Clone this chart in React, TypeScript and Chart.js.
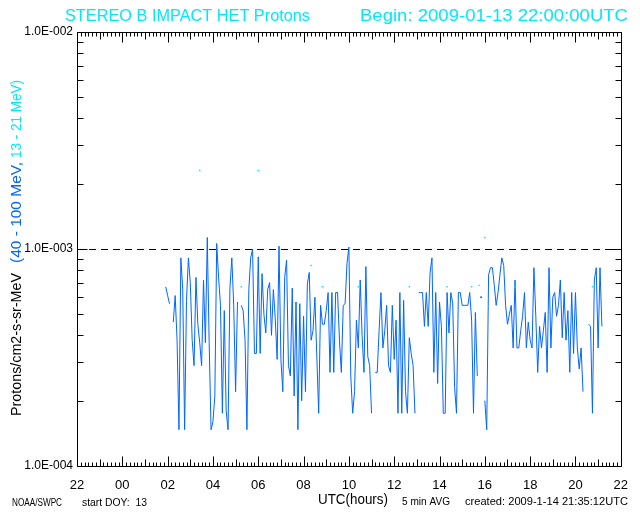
import React, { useEffect, useRef } from "react";
import { Chart, registerables } from "chart.js";

Chart.register(...registerables);

// ---------- texts ----------
const TITLE_LEFT = "STEREO B IMPACT HET Protons";
const TITLE_RIGHT = "Begin: 2009-01-13 22:00:00UTC";
const Y_TITLE_UNITS = "Protons/cm2-s-sr-MeV";
const Y_TITLE_HIGH = "(40 - 100 MeV,";
const Y_TITLE_LOW = "13 - 21 MeV)";
const FOOT_LEFT = "NOAA/SWPC";
const FOOT_DOY = "start DOY:  13";
const X_TITLE = "UTC(hours)";
const FOOT_AVG = "5 min AVG";
const FOOT_CREATED = "created: 2009-1-14 21:35:12UTC";

// ---------- axes ----------
const BEGIN_HOUR_UTC = 22;
const X_TICK_LABELS = ["22", "00", "02", "04", "06", "08", "10", "12", "14", "16", "18", "20", "22"];
const Y_TICK_VALUES = [1e-4, 1e-3, 1e-2];
const Y_TICK_LABELS = ["1.0E-004", "1.0E-003", "1.0E-002"];
const THRESHOLD = 1e-3;

// ---------- 40 - 100 MeV channel (5 min averages) ----------
const HIGH_START_UTC = "01:55";
const HIGH_STEP_MIN = 5;
const HIGH_FLUX: (number | null)[] = [
  6.7e-4, 6.1e-4, 5.6e-4, null, 4.6e-4, 6.1e-4, 3.8e-4, 1.47e-4, 9.1e-4, 6.5e-4, 1.47e-4, 5.8e-4,
  9.1e-4, 7.0e-4, 3.8e-4, 2.9e-4, 7.4e-4, 4.5e-4, 3.7e-4, 2.9e-4, 7.2e-4, 3.7e-4, 11.3e-4, 3.7e-4,
  1.47e-4, 1.6e-4, 2.1e-4, 10.6e-4, 7.4e-4, 5.5e-4, 1.75e-4, 5.2e-4, 1.8e-4, 1.47e-4, 6.6e-4, 9.1e-4,
  5.5e-4, 2.2e-4, 5.7e-4, null, 5.5e-4, 5.2e-4, 3.8e-4, 1.47e-4, 6.5e-4, 9.1e-4, 10.0e-4, 3.3e-4,
  3.3e-4, 9.2e-4, 3.3e-4, 7.7e-4, 5.0e-4, 4.1e-4, 6.5e-4, 7.0e-4, 4.0e-4, 6.5e-4, 4.8e-4, 3.1e-4,
  10.3e-4, 3.1e-4, 2.2e-4, 7.4e-4, 8.9e-4, 2.9e-4, 2.6e-4, 6.6e-4, 2.1e-4, 5.7e-4, 1.47e-4, 5.6e-4,
  2.0e-4, 4.9e-4, 2.2e-4, 6.9e-4, 7.8e-4, 3.8e-4, 4.2e-4, 6.0e-4, 3.2e-4, 1.75e-4, 5.5e-4, 4.5e-4,
  4.5e-4, 5.2e-4, 6.3e-4, 2.7e-4, 6.3e-4, 2.7e-4, 6.3e-4, 6.3e-4, 3.8e-4, 2.7e-4, 5.5e-4, 5.6e-4,
  8.6e-4, 10.2e-4, 2.6e-4, 1.75e-4, 2.2e-4, 4.7e-4, 3.5e-4, 7.2e-4, 4.0e-4, 2.7e-4, 8.3e-4, 3.2e-4,
  2.9e-4, 1.75e-4, null, 2.7e-4, 2.7e-4, 4.2e-4, 6.3e-4, 3.5e-4, 4.2e-4, 5.5e-4, 2.9e-4, 2.7e-4,
  5.5e-4, 3.1e-4, 4.7e-4, 1.75e-4, 6.3e-4, 1.75e-4, 5.8e-4, 2.2e-4, 1.75e-4, 3.9e-4, 3.3e-4, 2.9e-4,
  1.75e-4, null, 6.3e-4, 6.3e-4, 6.3e-4, 4.4e-4, 6.3e-4, 4.4e-4, 7.8e-4, 9.1e-4, 2.7e-4, 6.3e-4,
  2.4e-4, 5.7e-4, 4.4e-4, 1.75e-4, 1.75e-4, 6.3e-4, 4.1e-4, 6.3e-4, 5.6e-4, 2.3e-4, 1.75e-4, 6.3e-4,
  6.3e-4, 5.5e-4, 5.5e-4, 5.5e-4, 5.5e-4, 6.3e-4, 4.7e-4, 1.75e-4, 5.1e-4, 2.6e-4, null, 6.0e-4,
  null, 2.0e-4, 1.47e-4, 7.6e-4, 8.2e-4, 8.2e-4, 6.8e-4, 5.5e-4, 6.3e-4, 7.6e-4, 9.1e-4, 8.4e-4,
  5.5e-4, 4.5e-4, 5.0e-4, 5.5e-4, 3.5e-4, 7.2e-4, 3.5e-4, 3.5e-4, 4.2e-4, 4.9e-4, 6.3e-4, 3.5e-4,
  4.6e-4, 3.8e-4, 3.5e-4, 8.2e-4, 4.9e-4, 2.7e-4, 4.4e-4, 3.5e-4, 4.2e-4, 5.1e-4, 2.7e-4, 8.2e-4,
  3.5e-4, 6.0e-4, 6.3e-4, 4.9e-4, 5.5e-4, 7.2e-4, 3.9e-4, 6.3e-4, 3.8e-4, 5.2e-4, 2.7e-4, 6.3e-4,
  3.3e-4, 6.3e-4, 3.5e-4, 2.8e-4, 3.5e-4, 2.2e-4, null, null, 4.5e-4, 4.4e-4, 1.75e-4, 7.2e-4,
  8.2e-4, 3.5e-4, 8.2e-4, 4.4e-4,
];

// ---------- 13 - 21 MeV channel (sparse on-scale samples) ----------
const LOW_TIMES_UTC = ["03:25", "05:15", "06:00", "08:20", "08:50", "10:25", "12:40", "14:20", "15:25", "15:45", "16:00", "17:20", "20:45"];
const LOW_FLUX = [2.3e-3, 6.7e-4, 2.3e-3, 8.4e-4, 6.7e-4, 6.7e-4, 6.7e-4, 6.7e-4, 6.7e-4, 6.8e-4, 1.13e-3, 6.7e-4, 6.7e-4];

const BLUE = "#0066ff";
const CYAN = "#00e8ff";
const FONT = "'Liberation Sans', Arial, sans-serif";

function hoursAfterBegin(utc: string): number {
  const [hh, mm] = utc.split(":").map(Number);
  let h = hh + mm / 60 - BEGIN_HOUR_UTC;
  if (h < 0) h += 24;
  return h;
}

function drawFitted(
  ctx: CanvasRenderingContext2D,
  text: string,
  x: number,
  y: number,
  size: number,
  color: string,
  width: number,
  rotate = false
) {
  ctx.save();
  ctx.font = `${size}px ${FONT}`;
  ctx.fillStyle = color;
  ctx.textBaseline = "middle";
  ctx.textAlign = "left";
  const w = ctx.measureText(text).width;
  ctx.translate(x, y);
  if (rotate) ctx.rotate(-Math.PI / 2);
  ctx.scale(width / w, 1);
  ctx.fillText(text, 0, 0);
  ctx.restore();
}

const idlFrame = {
  id: "idlFrame",
  beforeDatasetsDraw(chart: any) {
    const { ctx, chartArea: a, scales } = chart;
    const py = Math.round(scales.y.getPixelForValue(THRESHOLD)) + 0.5;
    ctx.save();
    ctx.strokeStyle = "#000";
    ctx.lineWidth = 1;
    ctx.setLineDash([7, 5]);
    ctx.beginPath();
    ctx.moveTo(a.left, py);
    ctx.lineTo(a.right, py);
    ctx.stroke();
    ctx.restore();
  },
  afterDraw(chart: any) {
    const { ctx, chartArea: a, scales } = chart;
    const xs = scales.x;
    const ys = scales.y;
    const L = Math.round(a.left) + 0.5;
    const R = Math.round(a.right) + 0.5;
    const T = Math.round(a.top) + 0.5;
    const B = Math.round(a.bottom) + 0.5;
    ctx.save();
    ctx.strokeStyle = "#000";
    ctx.lineWidth = 1;
    ctx.beginPath();
    ctx.rect(L, T, R - L, B - T);
    // x ticks every 10 minutes
    for (let m = 0; m <= 24 * 6; m++) {
      const px = Math.round(xs.getPixelForValue(m / 6)) + 0.5;
      const len = m % 12 === 0 ? 10 : m % 6 === 0 ? 7 : 4;
      ctx.moveTo(px, B);
      ctx.lineTo(px, B - len);
      ctx.moveTo(px, T);
      ctx.lineTo(px, T + len);
    }
    // y log ticks
    const yTicks: { v: number; major: boolean }[] = [];
    for (let k = -4; k <= -3; k++) {
      for (let j = 1; j <= 9; j++) yTicks.push({ v: j * Math.pow(10, k), major: j === 1 });
    }
    yTicks.push({ v: 1e-2, major: true });
    yTicks.forEach((t) => {
      const py = Math.round(ys.getPixelForValue(t.v)) + 0.5;
      const len = t.major ? 10 : 6;
      ctx.moveTo(L, py);
      ctx.lineTo(L + len, py);
      ctx.moveTo(R, py);
      ctx.lineTo(R - len, py);
    });
    ctx.stroke();
    ctx.restore();

    // title
    drawFitted(ctx, TITLE_LEFT, 65, 17, 16, CYAN, 245);
    drawFitted(ctx, TITLE_RIGHT, 360, 17, 16, CYAN, 268);
    // y title (rotated)
    drawFitted(ctx, Y_TITLE_UNITS, 17, 416, 14, "#000", 143, true);
    drawFitted(ctx, Y_TITLE_HIGH, 17, 263, 14, BLUE, 101, true);
    drawFitted(ctx, Y_TITLE_LOW, 17, 158, 14, CYAN, 78, true);
    // footer
    drawFitted(ctx, FOOT_LEFT, 12, 503, 10, "#000", 50);
    drawFitted(ctx, FOOT_DOY, 82, 503, 10, "#000", 65);
    drawFitted(ctx, X_TITLE, 318, 500, 14, "#000", 70);
    drawFitted(ctx, FOOT_AVG, 402, 502, 10, "#000", 48);
    drawFitted(ctx, FOOT_CREATED, 465, 502, 10, "#000", 163);
  },
};

export default function App() {
  const ref = useRef<HTMLCanvasElement | null>(null);

  useEffect(() => {
    if (!ref.current) return;
    const startH = hoursAfterBegin(HIGH_START_UTC);
    const highData = HIGH_FLUX.map((v, i) => ({ x: startH + (i * HIGH_STEP_MIN) / 60, y: v }));
    const lowData = LOW_TIMES_UTC.map((t, i) => ({ x: hoursAfterBegin(t), y: LOW_FLUX[i] }));

    const chart = new Chart(ref.current, {
      type: "line",
      data: {
        datasets: [
          {
            label: "13 - 21 MeV",
            data: lowData as any,
            showLine: false,
            pointRadius: 1,
            pointStyle: "rect",
            pointBackgroundColor: CYAN,
            pointBorderWidth: 0,
          },
          {
            label: "40 - 100 MeV",
            data: highData as any,
            borderColor: BLUE,
            borderWidth: 1,
            tension: 0,
            spanGaps: false,
            pointBackgroundColor: BLUE,
            pointBorderWidth: 0,
            pointRadius: (c: any) => {
              const d = c.dataset.data;
              const i = c.dataIndex;
              if (!d[i] || d[i].y == null) return 0;
              const prevGap = i === 0 || d[i - 1].y == null;
              const nextGap = i === d.length - 1 || d[i + 1].y == null;
              return prevGap && nextGap ? 1 : 0;
            },
          },
        ],
      },
      options: {
        animation: false,
        responsive: false,
        devicePixelRatio: 1,
        parsing: false as any,
        normalized: true,
        layout: { padding: { top: 32, right: 13, left: 0, bottom: 0 } },
        plugins: {
          legend: { display: false },
          tooltip: { enabled: false },
          title: { display: false },
        },
        scales: {
          x: {
            type: "linear",
            min: 0,
            max: 24,
            grid: { display: false, drawTicks: false },
            border: { display: false },
            ticks: {
              stepSize: 2,
              autoSkip: false,
              maxRotation: 0,
              padding: 12,
              color: "#000",
              font: { family: FONT, size: 13 },
              callback: (v: any) => X_TICK_LABELS[Math.round(Number(v) / 2)] ?? "",
            },
            afterFit: (s: any) => {
              s.height = 46;
            },
          },
          y: {
            type: "logarithmic",
            min: 1e-4,
            max: 1e-2,
            grid: { display: false, drawTicks: false },
            border: { display: false },
            afterBuildTicks: (s: any) => {
              s.ticks = Y_TICK_VALUES.map((v) => ({ value: v }));
            },
            ticks: {
              padding: 4,
              color: "#000",
              font: { family: FONT, size: 12 },
              callback: (v: any) => {
                const i = Y_TICK_VALUES.findIndex((t) => Math.abs(t - Number(v)) / t < 1e-6);
                return i >= 0 ? Y_TICK_LABELS[i] : "";
              },
            },
            afterFit: (s: any) => {
              s.width = 77;
            },
          },
        },
      },
      plugins: [idlFrame],
    });
    return () => chart.destroy();
  }, []);

  return (
    <div style={{ position: "fixed", left: 0, top: 0, width: 640, height: 512, background: "#fff" }}>
      <canvas ref={ref} width={640} height={512} style={{ width: 640, height: 512 }} />
    </div>
  );
}
